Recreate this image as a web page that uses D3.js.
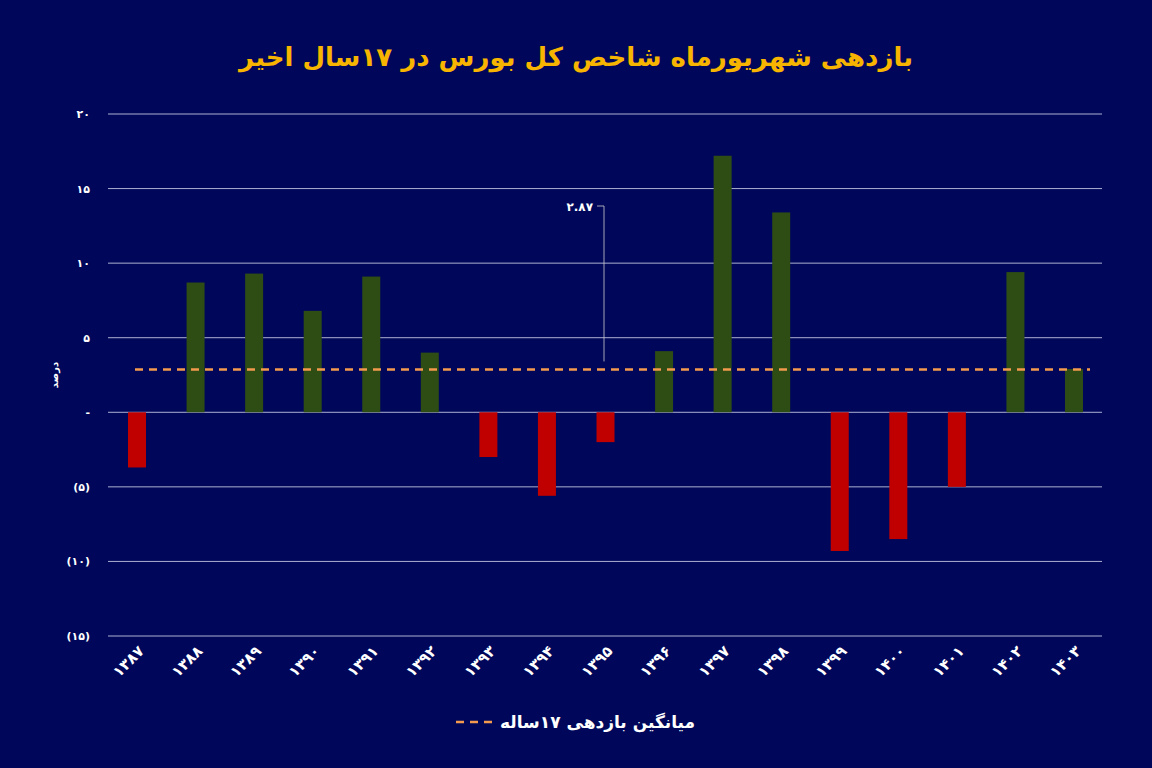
<!DOCTYPE html><html><head><meta charset="utf-8"><script src="https://cdn.jsdelivr.net/npm/d3@7"></script>
<style>body{margin:0;background:#00075a}text{font-family:"DejaVu Sans",sans-serif}</style></head><body><svg id="c" width="1152" height="768"></svg><script>
const years=["۱۳۸۷","۱۳۸۸","۱۳۸۹","۱۳۹۰","۱۳۹۱","۱۳۹۲","۱۳۹۳","۱۳۹۴","۱۳۹۵","۱۳۹۶","۱۳۹۷","۱۳۹۸","۱۳۹۹","۱۴۰۰","۱۴۰۱","۱۴۰۲","۱۴۰۳"];
const values=[-3.7,8.7,9.3,6.8,9.1,4.0,-3.0,-5.6,-2.0,4.1,17.2,13.4,-9.3,-8.5,-5.0,9.4,2.9];
const avg=2.87;
const ticks=[20,15,10,5,0,-5,-10,-15];
const tickLabels=["۲۰","۱۵","۱۰","۵","-","(۵)","(۱۰)","(۱۵)"];
const svg=d3.select("#c");
svg.append("rect").attr("width",1152).attr("height",768).attr("fill","#00075a");
const x=d3.scalePoint().domain(years).range([137,1074]);
const bw=18;
const y=d3.scaleLinear().domain([-15,20]).range([636,114]);
svg.append("g").selectAll("line").data(ticks).join("line").attr("x1",108).attr("x2",1102).attr("y1",d=>y(d)).attr("y2",d=>y(d)).attr("stroke","#d8dcef").attr("stroke-width",0.8);
svg.append("g").selectAll("text").data(ticks).join("text").attr("x",90).attr("y",d=>y(d)+4).attr("text-anchor","end").attr("fill","#fff").attr("font-size",11).attr("font-weight","bold").text((d,i)=>tickLabels[i]);
svg.append("g").selectAll("rect").data(values).join("rect").attr("x",(d,i)=>x(years[i])-bw/2).attr("width",bw).attr("y",d=>y(Math.max(0,d))).attr("height",d=>Math.abs(y(d)-y(0))).attr("fill",d=>d>=0?"#2d4d14":"#c00000");
svg.append("line").attr("x1",135).attr("x2",1090).attr("y1",y(avg)).attr("y2",y(avg)).attr("stroke","#f39a4e").attr("stroke-width",2.5).attr("stroke-dasharray","8,6");
svg.append("polyline").attr("points",`597,206 604,206 604,${y(avg)-8}`).attr("fill","none").attr("stroke","#ccc").attr("stroke-width",0.8);
svg.append("text").attr("x",593).attr("y",211).attr("text-anchor","end").attr("fill","#fff").attr("font-size",12).attr("font-weight","bold").text("۲.۸۷");
svg.append("g").selectAll("text").data(years).join("text").attr("transform",d=>`translate(${x(d)+8},${652}) rotate(-45)`).attr("text-anchor","end").attr("fill","#fff").attr("font-size",15).attr("font-weight","bold").text(d=>d);
svg.append("text").attr("transform","translate(58,375) rotate(-90)").attr("text-anchor","middle").attr("fill","#fff").attr("font-size",10).attr("font-weight","bold").text("درصد");
svg.append("text").attr("x",576).attr("y",66).attr("text-anchor","middle").attr("fill","#f7b500").attr("font-size",26).attr("font-weight","bold").text("بازدهی شهریورماه شاخص کل بورس در ۱۷سال اخیر");
svg.append("line").attr("x1",456).attr("x2",492).attr("y1",722).attr("y2",722).attr("stroke","#f39a4e").attr("stroke-width",2.5).attr("stroke-dasharray","8,6");
svg.append("text").attr("x",500).attr("y",728).attr("text-anchor","start").attr("fill","#fff").attr("font-size",17).attr("font-weight","bold").text("میانگین بازدهی ۱۷ساله");
</script></body></html>
